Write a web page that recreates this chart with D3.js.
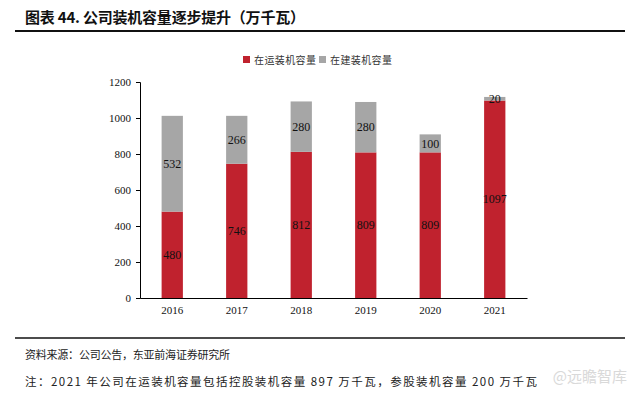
<!DOCTYPE html>
<html>
<head>
<meta charset="utf-8">
<script src="https://cdn.jsdelivr.net/npm/d3@7"></script>
<style>
body { margin: 0; background: #fff; }
</style>
</head>
<body>
<div id="chart"></div>
<script>
var years = ["2016", "2017", "2018", "2019", "2020", "2021"];
var running = [480, 746, 812, 809, 809, 1097];
var building = [532, 266, 280, 280, 100, 20];
var yTicks = [0, 200, 400, 600, 800, 1000, 1200];
var seriesNames = ["在运装机容量", "在建装机容量"];
var colors = ["#C0222E", "#A6A6A6"];

var W = 640, H = 395;
var margin = {top: 82, left: 140, right: 113, bottom: 97};
var width = W - margin.left - margin.right,
    height = H - margin.top - margin.bottom;

var svg = d3.select("#chart").append("svg")
  .attr("width", W).attr("height", H)
  .style("font-family", "'Noto Sans CJK SC', sans-serif");

// title
svg.append("text").attr("x", 25).attr("y", 23)
  .attr("font-size", 15).attr("font-weight", "bold").attr("fill", "#111")
  .attr("textLength", 280).attr("lengthAdjust", "spacing")
  .text("图表 44. 公司装机容量逐步提升（万千瓦）");
svg.append("line").attr("x1", 15).attr("x2", 625).attr("y1", 31).attr("y2", 31)
  .attr("stroke", "#111").attr("stroke-width", 2);

// footer
svg.append("line").attr("x1", 15).attr("x2", 625).attr("y1", 338).attr("y2", 338)
  .attr("stroke", "#111").attr("stroke-width", 1.5);
svg.append("text").attr("x", 25).attr("y", 359).attr("font-size", 11).attr("fill", "#222")
  .attr("textLength", 205).attr("lengthAdjust", "spacing")
  .text("资料来源：公司公告，东亚前海证券研究所");
svg.append("text").attr("x", 25).attr("y", 386).attr("font-size", 11.5).attr("fill", "#222")
  .attr("textLength", 512).attr("lengthAdjust", "spacing")
  .text("注：2021 年公司在运装机容量包括控股装机容量 897 万千瓦，参股装机容量 200 万千瓦");
svg.append("text").attr("x", 627).attr("y", 382).attr("text-anchor", "end")
  .attr("font-size", 15).attr("fill", "#d0d0d0").attr("opacity", 0.8)
  .text("@远瞻智库");

var g = svg.append("g").attr("transform", "translate(" + margin.left + "," + margin.top + ")");

var x = d3.scaleBand().domain(years).range([0, width]).paddingInner(0.67).paddingOuter(0.335);
var y = d3.scaleLinear().domain([0, 1200]).range([height, 0]);

var stackData = years.map(function(d, i) { return {year: d, running: running[i], building: building[i]}; });
var stack = d3.stack().keys(["running", "building"])(stackData);

var layers = g.selectAll(".layer").data(stack).enter().append("g")
  .attr("fill", function(d, i) { return colors[i]; });

layers.selectAll("rect").data(function(d) { return d; }).enter().append("rect")
  .attr("x", function(d) { return x(d.data.year); })
  .attr("y", function(d) { return y(d[1]); })
  .attr("width", x.bandwidth())
  .attr("height", function(d) { return y(d[0]) - y(d[1]); });

layers.selectAll("text").data(function(d) { return d; }).enter().append("text")
  .attr("x", function(d) { return x(d.data.year) + x.bandwidth() / 2; })
  .attr("y", function(d) { return y((d[0] + d[1]) / 2); })
  .attr("dy", "0.35em")
  .attr("text-anchor", "middle")
  .attr("font-family", "'Liberation Serif', serif")
  .attr("font-size", 12)
  .attr("fill", "#111")
  .text(function(d) { return d[1] - d[0]; });

// axes
var yAxis = g.append("g").call(d3.axisLeft(y).tickValues(yTicks).tickFormat(d3.format("d")).tickSize(4));
var xAxis = g.append("g").attr("transform", "translate(0," + height + ")")
  .call(d3.axisBottom(x).tickSize(0).tickPadding(8));
[yAxis, xAxis].forEach(function(a) {
  a.selectAll("path, line").attr("stroke", "#000");
  a.selectAll("text").attr("font-family", "'Liberation Serif', serif")
    .attr("font-size", 11).attr("fill", "#111");
});
yAxis.selectAll("text").attr("dx", "-2");

// legend
var legend = svg.append("g").attr("transform", "translate(243,56)");
seriesNames.forEach(function(name, i) {
  var lg = legend.append("g").attr("transform", "translate(" + (i * 76) + ",0)");
  lg.append("rect").attr("width", 7).attr("height", 7).attr("fill", colors[i]);
  lg.append("text").attr("x", 11).attr("y", 7.5).attr("font-size", 10).attr("fill", "#333")
    .attr("textLength", 62).attr("lengthAdjust", "spacing")
    .text(name);
});
</script>
</body>
</html>
